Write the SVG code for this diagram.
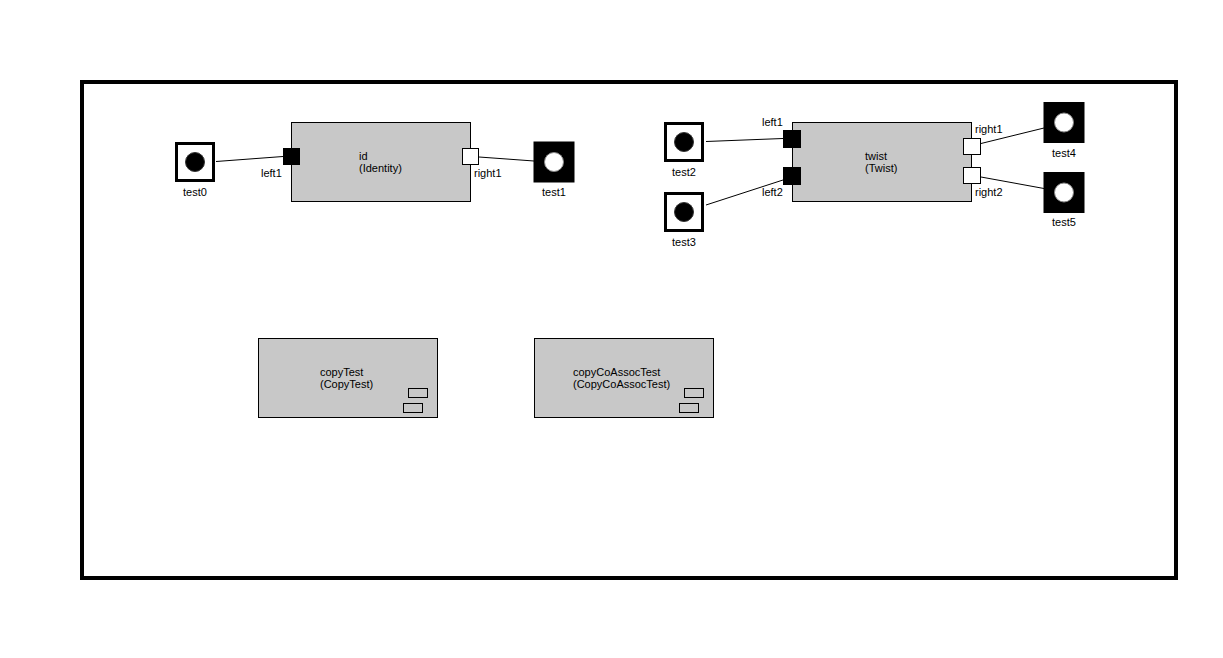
<svg xmlns="http://www.w3.org/2000/svg" width="1223" height="658" viewBox="0 0 1223 658">
<style>
text{font-family:"Liberation Sans",Arial,sans-serif;font-size:11px;fill:#000}
.box{fill:#c8c8c8;stroke:#000;stroke-width:1}
.inp{fill:#000;stroke:#000;stroke-width:1}
.outp{fill:#fff;stroke:#000;stroke-width:1}
.src{fill:#fff;stroke:#000;stroke-width:3}
.snk{fill:#000;stroke:#000;stroke-width:1}
.dotb{fill:#000;stroke:#333;stroke-width:1}
.dotw{fill:#fff;stroke:#888;stroke-width:1}
.mini{fill:none;stroke:#000;stroke-width:1}
.c{stroke:#000;stroke-width:1;fill:none}
.m{text-anchor:middle}
</style>
<rect x="82" y="82" width="1094" height="496" fill="#fff" stroke="#000" stroke-width="4"/>
<g id="connectors">
<line class="c" x1="216" y1="161.5" x2="283" y2="156.5"/>
<line class="c" x1="479" y1="157" x2="534" y2="161"/>
<line class="c" x1="706" y1="141.5" x2="783" y2="138.5"/>
<line class="c" x1="706" y1="205" x2="783" y2="180"/>
<line class="c" x1="981" y1="143.5" x2="1044" y2="128"/>
<line class="c" x1="981" y1="177" x2="1044" y2="188.5"/>
</g>
<g id="id">
<rect class="box" x="291.5" y="122.5" width="179" height="79"/>
<text x="359" y="160">id</text>
<text x="359" y="172">(Identity)</text>
<rect class="inp" x="283.5" y="148.5" width="16" height="16"/>
<text x="261" y="177">left1</text>
<rect class="outp" x="462.5" y="148.5" width="16" height="16"/>
<text x="474" y="177">right1</text>
</g>
<g id="twist">
<rect class="box" x="792.5" y="122.5" width="179" height="79"/>
<text x="865" y="160">twist</text>
<text x="865" y="172">(Twist)</text>
<rect class="inp" x="783.5" y="130.5" width="17" height="17"/>
<text x="762" y="126">left1</text>
<rect class="inp" x="783.5" y="167.5" width="17" height="17"/>
<text x="762" y="196">left2</text>
<rect class="outp" x="963.5" y="138.5" width="17" height="16"/>
<text x="975" y="133">right1</text>
<rect class="outp" x="963.5" y="167.5" width="17" height="16"/>
<text x="975" y="196">right2</text>
</g>
<g id="copyTest">
<rect class="box" x="258.5" y="338.5" width="179" height="79"/>
<text x="320" y="376">copyTest</text>
<text x="320" y="388">(CopyTest)</text>
<rect class="mini" x="408.5" y="388.5" width="19" height="9"/>
<rect class="mini" x="403.5" y="403.5" width="19" height="9"/>
</g>
<g id="copyCoAssocTest">
<rect class="box" x="534.5" y="338.5" width="179" height="79"/>
<text x="573" y="376">copyCoAssocTest</text>
<text x="573" y="388">(CopyCoAssocTest)</text>
<rect class="mini" x="684.5" y="388.5" width="19" height="9"/>
<rect class="mini" x="679.5" y="403.5" width="19" height="9"/>
</g>
<g id="test0">
<rect class="src" x="176.5" y="143.5" width="37" height="37"/>
<circle class="dotb" cx="195" cy="162" r="9.5"/>
<text class="m" x="195" y="196">test0</text>
</g>
<g id="test1">
<rect class="snk" x="534" y="142" width="40" height="40"/>
<circle class="dotw" cx="554" cy="162" r="9.5"/>
<text class="m" x="554" y="196">test1</text>
</g>
<g id="test2">
<rect class="src" x="665.5" y="123.5" width="37" height="37"/>
<circle class="dotb" cx="684" cy="142" r="9.5"/>
<text class="m" x="684" y="176">test2</text>
</g>
<g id="test3">
<rect class="src" x="665.5" y="193.5" width="37" height="37"/>
<circle class="dotb" cx="684" cy="212" r="9.5"/>
<text class="m" x="684" y="246">test3</text>
</g>
<g id="test4">
<rect class="snk" x="1044" y="102.5" width="40" height="40"/>
<circle class="dotw" cx="1064" cy="122.5" r="9.5"/>
<text class="m" x="1064" y="157">test4</text>
</g>
<g id="test5">
<rect class="snk" x="1044" y="172.5" width="40" height="40"/>
<circle class="dotw" cx="1064" cy="192.5" r="9.5"/>
<text class="m" x="1064" y="226">test5</text>
</g>
</svg>
